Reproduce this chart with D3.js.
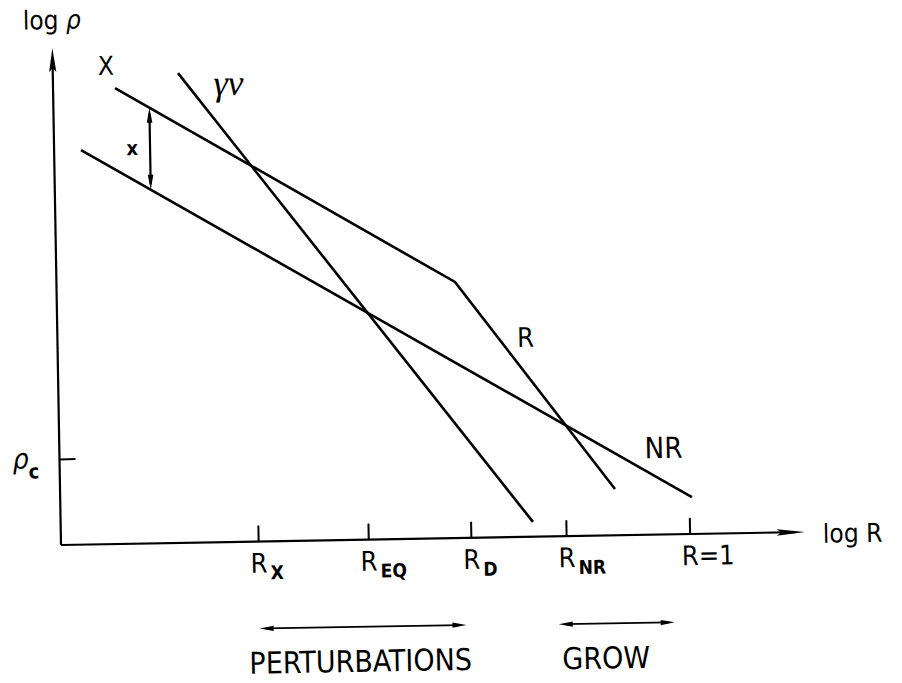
<!DOCTYPE html>
<html>
<head>
<meta charset="utf-8">
<script src="https://cdn.jsdelivr.net/npm/d3@7/dist/d3.min.js"></script>
<style>
  html, body { margin: 0; padding: 0; background: #fff; }
  svg { display: block; }
  text { font-family: "Liberation Sans Narrow", "DejaVu Sans Condensed", "Liberation Sans", Arial, sans-serif; fill: #000; }
</style>
</head>
<body>
<script>
// ---- data (abstract log-log units) ----
const xLineX = [0.833, 5.356, 7.458];   // "X" line, kinking into "R"
const xLineY = [9.21, 5.174, 0.935];
const nrLineX = [0.362, 8.49];           // "NR" line
const nrLineY = [7.97, 0.747];
const gvLineX = [1.683, 6.348];          // "γν" line
const gvLineY = [9.49, 0.30];
const tickValues = [2.65, 4.13, 5.51, 6.79, 8.45];
const tickMain = ["R", "R", "R", "R", "R=1"];
const tickSub = ["X", "EQ", "D", "NR", ""];
const rhoC = 1.74;
const gapArrowX = 1.29;
const gapArrowY = [8.80, 7.145];
const perturbRange = [2.65, 5.43];
const growRange = [6.67, 8.23];
const xMax = 10, yMax = 10.04;

// ---- layout ----
const W = 902, H = 683;
const origin = [61, 545];
const svg = d3.select("body").append("svg").attr("width", W).attr("height", H);
svg.append("rect").attr("width", W).attr("height", H).attr("fill", "#fff");
const g = svg.append("g").attr("transform", `translate(${origin[0]},${origin[1]}) rotate(-1)`);

const x = d3.scaleLinear().domain([0, 10]).range([0, 744]);
const y = d3.scaleLinear().domain([0, 10]).range([0, -495]);

const line = d3.line().x(d => x(d[0])).y(d => y(d[1]));
const stroke = "#000";

// axes
g.append("line").attr("x1", x(0)).attr("y1", y(0)).attr("x2", x(0)).attr("y2", y(yMax) + 10)
  .attr("stroke", stroke).attr("stroke-width", 2.2);
g.append("line").attr("x1", x(0)).attr("y1", y(0)).attr("x2", x(xMax) - 10).attr("y2", y(0))
  .attr("stroke", stroke).attr("stroke-width", 2.2);
// axis arrowheads
g.append("path").attr("d", `M${x(0)},${y(yMax)} L${x(0) + 3.6},${y(yMax) + 24} L${x(0)},${y(yMax) + 20} L${x(0) - 3.6},${y(yMax) + 24} Z`).attr("fill", stroke);
g.append("path").attr("d", `M${x(xMax)},${y(0)} L${x(xMax) - 28},${y(0) - 3.2} L${x(xMax) - 24},${y(0)} L${x(xMax) - 28},${y(0) + 3.2} Z`).attr("fill", stroke);

// x ticks via d3 axis (drawn upward)
const xAxis = d3.axisBottom(x).tickValues(tickValues).tickSize(-16).tickFormat("");
const ax = g.append("g").attr("transform", `translate(0,${y(0)})`).call(xAxis);
ax.select(".domain").remove();
ax.selectAll(".tick line").attr("stroke", stroke).attr("stroke-width", 2);

// y tick (rho_c) via d3 axis (drawn rightward)
const yAxis = d3.axisLeft(y).tickValues([rhoC]).tickSize(-16).tickFormat("");
const ay = g.append("g").call(yAxis);
ay.select(".domain").remove();
ay.selectAll(".tick line").attr("stroke", stroke).attr("stroke-width", 2);

// tick labels
tickValues.forEach((v, i) => {
  const t = g.append("text").attr("x", x(v) - 8).attr("y", y(0) + 31).attr("font-size", 27);
  t.append("tspan").text(tickMain[i]);
  if (tickSub[i]) t.append("tspan").attr("dx", 3).attr("dy", 7).attr("font-size", 19).attr("font-weight", "bold").text(tickSub[i]);
});
// rho_c label
const rc = g.append("text").attr("x", x(0) - 47).attr("y", y(rhoC) + 9).attr("font-size", 28);
rc.append("tspan").attr("font-style", "italic").text("ρ");
rc.append("tspan").attr("dy", 10).attr("font-size", 20).attr("font-weight", "bold").text("c");

// axis titles
const lt = g.append("text").attr("x", x(0) - 29).attr("y", y(yMax) - 19).attr("font-size", 26);
lt.append("tspan").text("log ");
lt.append("tspan").attr("font-style", "italic").text("ρ");
g.append("text").attr("x", x(xMax) + 18).attr("y", y(0) + 11).attr("font-size", 26).text("log R");

// curves
const curves = [
  xLineX.map((v, i) => [v, xLineY[i]]),
  nrLineX.map((v, i) => [v, nrLineY[i]]),
  gvLineX.map((v, i) => [v, gvLineY[i]])
];
g.selectAll("path.curve").data(curves).enter().append("path").attr("class", "curve")
  .attr("d", line).attr("fill", "none").attr("stroke", stroke).attr("stroke-width", 2.6)
  .attr("stroke-linejoin", "miter");

// gap double arrow
const ax1 = x(gapArrowX), ayTop = y(gapArrowY[0]), ayBot = y(gapArrowY[1]);
g.append("line").attr("x1", ax1).attr("y1", ayTop + 6).attr("x2", ax1).attr("y2", ayBot - 6)
  .attr("stroke", stroke).attr("stroke-width", 2.2);
g.append("path").attr("d", `M${ax1},${ayTop} L${ax1 + 2.8},${ayTop + 15} L${ax1 - 2.8},${ayTop + 15} Z`).attr("fill", stroke);
g.append("path").attr("d", `M${ax1},${ayBot} L${ax1 + 2.8},${ayBot - 15} L${ax1 - 2.8},${ayBot - 15} Z`).attr("fill", stroke);

// curve labels
g.append("text").attr("x", x(0.715)).attr("y", y(9.48)).attr("text-anchor", "middle").attr("font-size", 26).text("X");
g.append("text").attr("x", x(1.05)).attr("y", y(7.85)).attr("text-anchor", "middle").attr("font-size", 20).attr("font-weight", "bold").text("x");
g.append("text").attr("x", x(2.36)).attr("y", y(9.03)).attr("text-anchor", "middle").attr("font-size", 36)
  .style("font-family", "'Liberation Serif', 'DejaVu Serif', serif").attr("font-style", "italic").text("γν");
g.append("text").attr("x", x(6.29)).attr("y", y(3.84)).attr("text-anchor", "middle").attr("font-size", 27).text("R");
g.append("text").attr("x", x(8.12)).attr("y", y(1.545)).attr("text-anchor", "middle").attr("font-size", 29).text("NR");

// bottom range arrows
function rangeArrow(r, yy) {
  const a = x(r[0]), b = x(r[1]);
  g.append("line").attr("x1", a + 6).attr("y1", yy).attr("x2", b - 6).attr("y2", yy)
    .attr("stroke", stroke).attr("stroke-width", 1.8);
  g.append("path").attr("d", `M${a},${yy} L${a + 14},${yy - 2.6} L${a + 14},${yy + 2.6} Z`).attr("fill", stroke);
  g.append("path").attr("d", `M${b},${yy} L${b - 14},${yy - 2.6} L${b - 14},${yy + 2.6} Z`).attr("fill", stroke);
}
rangeArrow(perturbRange, 87);
rangeArrow(growRange, 88);
g.append("text").attr("x", x(4.0)).attr("y", 132).attr("text-anchor", "middle").attr("font-size", 30).text("PERTURBATIONS");
g.append("text").attr("x", x(7.3)).attr("y", 133).attr("text-anchor", "middle").attr("font-size", 30).text("GROW");
</script>
</body>
</html>
